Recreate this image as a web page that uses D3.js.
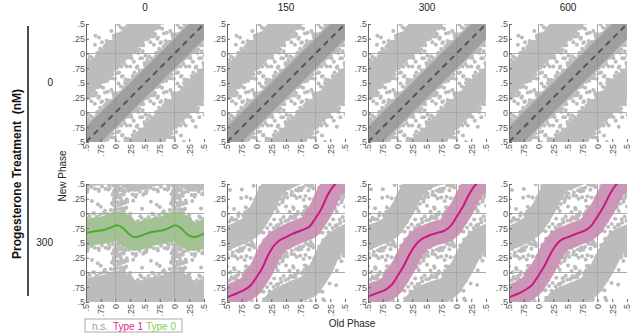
<!DOCTYPE html>
<html><head><meta charset="utf-8">
<script src="https://cdn.jsdelivr.net/npm/d3@7"></script>
<style>
body{margin:0;background:#fff}
text{font-family:"Liberation Sans",Arial,Helvetica,sans-serif}
</style>
</head><body>
<svg id="chart" width="635" height="336"></svg>
<script>
// ---------- data ----------
const doses = ["0", "150", "300", "600"];          // column titles (nM)
const rowDoses = ["0", "300"];                      // row labels (nM)
const phaseTicks = [-0.5, -0.25, 0, 0.25, 0.5, 0.75, 1, 1.25, 1.5];
const phaseTickLabels = [".5", ".75", "0", ".25", ".5", ".75", "0", ".25", ".5"];
const legendItems = ["n.s.", "Type 1", "Type 0"];

// fitted phase-response curves: [old phase, new phase]
const nsCurve = [[-1, -1], [2, 2]];
const type0Curve = [[-0.6, 0.66], [-0.5, 0.67], [-0.35, 0.70], [-0.2, 0.72], [-0.08, 0.76], [0.02, 0.80], [0.12, 0.76],
  [0.22, 0.66], [0.33, 0.60], [0.45, 0.63], [0.55, 0.67], [0.7, 0.70], [0.82, 0.72], [0.92, 0.76], [1.0, 0.80],
  [1.1, 0.76], [1.2, 0.66], [1.32, 0.60], [1.42, 0.62], [1.5, 0.66], [1.6, 0.68]];
const type1Curve150 = [[-0.6, -0.47], [-0.5, -0.42], [-0.35, -0.36], [-0.2, -0.29], [-0.1, -0.22], [0, -0.08], [0.1, 0.08],
  [0.2, 0.3], [0.3, 0.46], [0.4, 0.55], [0.5, 0.6], [0.6, 0.65], [0.7, 0.69], [0.8, 0.73], [0.9, 0.78], [1.0, 0.92],
  [1.1, 1.08], [1.2, 1.3], [1.3, 1.46], [1.4, 1.55], [1.5, 1.6], [1.6, 1.65]];
const type1Curve300 = [[-0.6, -0.45], [-0.5, -0.41], [-0.35, -0.35], [-0.2, -0.29], [-0.1, -0.21], [0, -0.06], [0.1, 0.1],
  [0.2, 0.3], [0.3, 0.46], [0.4, 0.56], [0.5, 0.61], [0.6, 0.65], [0.7, 0.68], [0.8, 0.71], [0.9, 0.79], [1.0, 0.94],
  [1.1, 1.1], [1.2, 1.3], [1.3, 1.46], [1.4, 1.56], [1.5, 1.61], [1.6, 1.66]];
const type1Curve600 = [[-0.6, -0.46], [-0.5, -0.42], [-0.35, -0.36], [-0.2, -0.28], [-0.1, -0.2], [0, -0.05], [0.1, 0.11],
  [0.2, 0.31], [0.3, 0.47], [0.4, 0.56], [0.5, 0.6], [0.6, 0.64], [0.7, 0.68], [0.8, 0.72], [0.9, 0.8], [1.0, 0.95],
  [1.1, 1.11], [1.2, 1.31], [1.3, 1.47], [1.4, 1.56], [1.5, 1.6], [1.6, 1.65]];

// individual cells: [old phase, deviation of new phase from the fitted curve]
const nsDots = [[0.01,0.31],[0.03,-0.36],[0.05,0.44],[0.07,-0.28],[0.09,0.35],[0.11,-0.5],[0.13,0.29],[0.15,-0.33],
  [0.17,0.39],[0.19,-0.41],[0.21,0.3],[0.23,-0.29],[0.25,0.53],[0.27,-0.35],[0.29,0.33],[0.31,-0.45],[0.33,0.28],
  [0.35,-0.31],[0.37,0.41],[0.39,-0.38],[0.41,0.3],[0.43,-0.29],[0.45,0.47],[0.47,-0.33],[0.49,0.35],[0.51,-0.55],
  [0.53,0.29],[0.55,-0.3],[0.57,0.38],[0.59,-0.4],[0.61,0.31],[0.63,-0.28],[0.65,0.5],[0.67,-0.34],[0.69,0.32],
  [0.71,-0.46],[0.73,0.29],[0.75,-0.31],[0.77,0.42],[0.79,-0.37],[0.81,0.3],[0.83,-0.29],[0.85,0.36],[0.87,-0.52],
  [0.89,0.3],[0.91,-0.33],[0.93,0.45],[0.95,-0.3],[0.97,0.33],[0.99,-0.42],[0.06,0.62],[0.16,-0.66],[0.26,0.7],
  [0.36,-0.6],[0.46,0.58],[0.56,-0.72],[0.66,0.64],[0.76,-0.58],[0.86,0.68],[0.96,-0.63],[0.12,0.5],[0.42,-0.5],
  [0.72,0.55],[0.82,-0.48],
  [0.02,-0.27],[0.04,0.28],[0.08,0.26],[0.1,-0.32],[0.14,-0.26],[0.18,0.27],[0.2,-0.27],[0.22,0.33],[0.24,-0.3],
  [0.28,0.27],[0.3,-0.28],[0.32,0.36],[0.34,-0.27],[0.38,0.27],[0.4,-0.33],[0.44,0.27],[0.46,-0.27],[0.5,0.3],
  [0.52,-0.28],[0.54,0.35],[0.58,0.27],[0.6,-0.31],[0.62,0.27],[0.64,-0.35],[0.68,0.27],[0.7,-0.27],[0.74,0.34],
  [0.78,0.27],[0.8,-0.28],[0.84,0.31],[0.86,-0.27],[0.88,0.27],[0.9,-0.3],[0.92,0.28],[0.94,-0.36],[0.98,0.28]];
const type0Dots = [[0.02,0.27],[0.05,-0.3],[0.08,0.24],[0.11,-0.26],[0.14,0.3],[0.17,-0.33],[0.2,0.25],[0.23,-0.27],
  [0.26,0.28],[0.29,-0.3],[0.32,0.24],[0.35,-0.29],[0.38,0.26],[0.41,-0.25],[0.44,0.3],[0.47,-0.32],[0.5,0.25],
  [0.53,-0.27],[0.56,0.27],[0.59,-0.24],[0.62,0.31],[0.65,-0.28],[0.68,0.24],[0.71,-0.3],[0.74,0.27],[0.77,-0.26],
  [0.8,0.29],[0.83,-0.31],[0.86,0.25],[0.89,-0.27],[0.92,0.3],[0.95,-0.25],[0.98,0.27],
  [0.0,0.4],[0.01,0.55],[0.02,0.68],[0.03,-0.45],[0.04,-0.6],[0.05,0.35],[0.06,0.5],[0.07,-0.38],[0.08,0.62],
  [0.09,-0.52],[0.1,0.44],[0.11,-0.68],[0.12,0.74],[0.13,-0.42],[0.14,0.58],[0.15,-0.55],[0.97,0.47],[0.98,-0.4],
  [0.99,0.62],[0.96,-0.58],[0.18,0.4],[0.2,-0.48],[0.3,0.6],[0.45,-0.55],[0.6,0.52],[0.75,-0.6],[0.88,0.66],
  [0.25,-0.65],[0.5,0.7],[0.7,0.45],
  [0.0,0.3],[0.01,-0.33],[0.02,0.47],[0.03,0.6],[0.04,-0.5],[0.05,0.72],[0.06,-0.35],[0.07,0.52],[0.08,-0.7],
  [0.09,0.38],[0.1,-0.45],[0.11,0.66],[0.12,-0.58],[0.13,0.33],[0.14,-0.36],[0.16,0.48],[0.17,-0.62],[0.19,0.55],
  [0.94,0.4],[0.95,-0.45],[0.97,0.58],[0.99,-0.5],[0.98,0.35],[0.96,0.7],
  [0.24,0.31],[0.34,-0.32],[0.42,0.33],[0.52,-0.31],[0.64,0.3],[0.72,-0.33],[0.82,0.32],[0.9,-0.32]];
const type1Dots = [[0.02,0.25],[0.04,-0.3],[0.06,0.42],[0.08,-0.22],[0.1,0.33],[0.12,-0.45],[0.14,0.27],[0.16,-0.36],
  [0.18,0.5],[0.2,-0.28],[0.22,0.35],[0.24,-0.55],[0.26,0.24],[0.28,-0.33],[0.3,0.44],[0.32,-0.26],[0.34,0.3],
  [0.36,-0.48],[0.38,0.62],[0.4,-0.3],[0.42,0.28],[0.44,-0.38],[0.46,0.36],[0.48,-0.25],[0.5,0.52],[0.52,-0.34],
  [0.54,0.27],[0.56,-0.6],[0.58,0.31],[0.6,-0.28],[0.62,0.45],[0.64,-0.36],[0.66,0.25],[0.68,-0.42],[0.7,0.34],
  [0.72,-0.27],[0.74,0.58],[0.76,-0.32],[0.78,0.28],[0.8,-0.5],[0.82,0.38],[0.84,-0.26],[0.86,0.3],[0.88,-0.38],
  [0.9,0.47],[0.92,-0.29],[0.94,0.26],[0.96,-0.44],[0.98,0.35],[0.05,0.7],[0.15,-0.68],[0.25,0.75],[0.35,-0.72],
  [0.45,0.66],[0.55,0.8],[0.65,-0.7],[0.75,0.72],[0.85,-0.65],[0.95,0.62],[0.33,0.6],[0.63,-0.58],[0.13,-0.6],
  [0.83,0.55],
  [0.01,-0.27],[0.03,0.3],[0.07,-0.35],[0.09,0.28],[0.11,-0.3],[0.17,0.29],[0.19,-0.27],[0.21,0.3],[0.27,-0.29],
  [0.29,0.31],[0.31,-0.3],[0.37,0.28],[0.39,-0.27],[0.41,0.34],[0.47,-0.3],[0.49,0.28],[0.51,-0.27],[0.57,0.29],
  [0.59,-0.33],[0.61,0.27],[0.67,-0.28],[0.69,0.3],[0.71,-0.31],[0.77,0.27],[0.79,-0.28],[0.81,0.31],[0.87,-0.29],
  [0.89,0.28],[0.91,-0.34],[0.97,0.28],[0.99,-0.28]];

// ---------- panel table ----------
const kinds = {
  ns:    {line: "#555555", dash: "6,4.5", band: "rgba(85,85,85,0.28)", cloudW: 0.4,  bandW: 0.36},
  type0: {line: "#4aae2c", dash: null,    band: "rgba(130,205,90,0.38)", cloudW: 0.46, bandW: 0.48},
  type1: {line: "#cc177f", dash: null,    band: "rgba(228,85,172,0.36)", cloudW: 0.4,  bandW: 0.42}
};
const panels = [
  {row: 0, col: 0, kind: "ns", curve: nsCurve, dots: nsDots},
  {row: 0, col: 1, kind: "ns", curve: nsCurve, dots: nsDots},
  {row: 0, col: 2, kind: "ns", curve: nsCurve, dots: nsDots},
  {row: 0, col: 3, kind: "ns", curve: nsCurve, dots: nsDots},
  {row: 1, col: 0, kind: "type0", curve: type0Curve, dots: type0Dots},
  {row: 1, col: 1, kind: "type1", curve: type1Curve150, dots: type1Dots},
  {row: 1, col: 2, kind: "type1", curve: type1Curve300, dots: type1Dots},
  {row: 1, col: 3, kind: "type1", curve: type1Curve600, dots: type1Dots}
];

// ---------- layout ----------
const svg = d3.select("#chart");
const PW = 118, PH = 118;
const colX = [86, 227, 368, 509];
const rowY = [24, 184];
const dotColor = "#bcbcbc";
const x = d3.scaleLinear().domain([-0.5, 1.5]).range([0, PW]);
const y = d3.scaleLinear().domain([-0.5, 1.5]).range([PH, 0]);
const unit = x(1) - x(0);

const defs = svg.append("defs");
defs.append("clipPath").attr("id", "pclip").append("rect")
  .attr("x", 0).attr("y", 0).attr("width", PW).attr("height", PH);

function curveAt(curve, xv) {
  for (let i = 0; i < curve.length - 1; i++) {
    const a = curve[i], b = curve[i + 1];
    if (xv >= a[0] && xv <= b[0]) return a[1] + (b[1] - a[1]) * (xv - a[0]) / (b[0] - a[0]);
  }
  return xv < curve[0][0] ? curve[0][1] : curve[curve.length - 1][1];
}

const line = d3.line().x(d => x(d[0])).y(d => y(d[1])).curve(d3.curveMonotoneX);

panels.forEach(p => {
  const k = kinds[p.kind];
  const g = svg.append("g").attr("transform", `translate(${colX[p.col]},${rowY[p.row]})`);
  const pg = g.append("g").attr("clip-path", "url(#pclip)");

  // dense cell clouds (wrapped phase copies)
  [-1, 0, 1].forEach(j => {
    pg.append("path").attr("d", line(p.curve.map(d => [d[0], d[1] + j])))
      .attr("fill", "none").attr("stroke", dotColor).attr("stroke-width", k.cloudW * unit)
      .attr("stroke-linejoin", "round");
  });
  // individual cells, duplicated over the double-plotted phase range
  const pts = [];
  p.dots.forEach(([x0, dy]) => {
    [-1, 0, 1].forEach(i => {
      const xx = x0 + i;
      if (xx < -0.53 || xx > 1.53) return;
      const base = curveAt(p.curve, xx) + dy;
      [-1, 0, 1].forEach(j => {
        const yy = base + j;
        if (yy < -0.53 || yy > 1.53) return;
        pts.push([xx, yy]);
      });
    });
  });
  pg.selectAll("circle.cell").data(pts).join("circle").attr("class", "cell")
    .attr("cx", d => x(d[0])).attr("cy", d => y(d[1])).attr("r", 2).attr("fill", dotColor);

  // reference grid at phase 0 and 1
  [0, 1].forEach(v => {
    pg.append("line").attr("x1", x(v)).attr("x2", x(v)).attr("y1", 0).attr("y2", PH)
      .attr("stroke", "#a9a9a9").attr("stroke-width", 1);
    pg.append("line").attr("x1", 0).attr("x2", PW).attr("y1", y(v)).attr("y2", y(v))
      .attr("stroke", "#a9a9a9").attr("stroke-width", 1);
  });

  // confidence band and fit
  pg.append("path").attr("d", line(p.curve)).attr("fill", "none")
    .attr("stroke", k.band).attr("stroke-width", k.bandW * unit);
  const fit = pg.append("path").attr("d", line(p.curve)).attr("fill", "none")
    .attr("stroke", k.line).attr("stroke-width", 2);
  if (k.dash) fit.attr("stroke-dasharray", k.dash);

  // axes
  const ay = g.append("g").call(d3.axisLeft(y).tickValues(phaseTicks)
    .tickFormat((d, i) => phaseTickLabels[i]).tickSizeInner(-3).tickSizeOuter(0).tickPadding(1));
  ay.select(".domain").attr("stroke", "#666");
  ay.selectAll(".tick line").attr("stroke", "#666");
  ay.selectAll("text").attr("fill", "#555").attr("font-size", 9)
    .attr("font-family", "'Liberation Sans',Arial,sans-serif");

  const ax = g.append("g").attr("transform", `translate(0,${PH})`).call(d3.axisBottom(x).tickValues(phaseTicks)
    .tickFormat((d, i) => phaseTickLabels[i]).tickSizeInner(-3).tickSizeOuter(0));
  ax.select(".domain").remove();
  ax.selectAll(".tick line").attr("stroke", "#666");
  ax.selectAll("text").attr("fill", "#555").attr("font-size", 9)
    .attr("font-family", "'Liberation Sans',Arial,sans-serif")
    .attr("transform", "rotate(-90)").attr("text-anchor", "end")
    .attr("x", -2).attr("y", 0).attr("dy", "0.33em");
});

// column titles
doses.forEach((d, i) => {
  svg.append("text").attr("x", colX[i] + PW / 2).attr("y", 11).attr("text-anchor", "middle")
    .attr("font-size", 10).attr("fill", "#222").text(d);
});
// row labels
rowDoses.forEach((d, i) => {
  svg.append("text").attr("x", 53).attr("y", rowY[i] + 62).attr("text-anchor", "end")
    .attr("font-size", 10).attr("fill", "#222").text(d);
});
// row-group title and bar
svg.append("line").attr("x1", 28).attr("x2", 28).attr("y1", 26).attr("y2", 296)
  .attr("stroke", "#111").attr("stroke-width", 1.5);
svg.append("text").attr("transform", "translate(21,174) rotate(-90)").attr("text-anchor", "middle")
  .attr("font-size", 12).attr("font-weight", "bold").attr("fill", "#111")
  .attr("xml:space", "preserve").text("Progesterone Treatment  (nM)");
// axis titles
svg.append("text").attr("transform", "translate(66,176) rotate(-90)").attr("text-anchor", "middle")
  .attr("font-size", 10).attr("fill", "#222").text("New Phase");
svg.append("text").attr("x", 352).attr("y", 327).attr("text-anchor", "middle")
  .attr("font-size", 10).attr("fill", "#222").text("Old Phase");

// legend
const legendColors = ["#9a9a9a", "#e0259c", "#7fcc52"];
const lg = svg.append("g");
lg.append("rect").attr("x", 85).attr("y", 319).attr("width", 97).attr("height", 13)
  .attr("fill", "#fff").attr("stroke", "#aaa");
const legendX = [92, 113, 146];
legendItems.forEach((t, i) => {
  lg.append("text").attr("x", legendX[i]).attr("y", 329.5).attr("font-size", 10)
    .attr("fill", legendColors[i]).text(t);
});
</script>
</body></html>
